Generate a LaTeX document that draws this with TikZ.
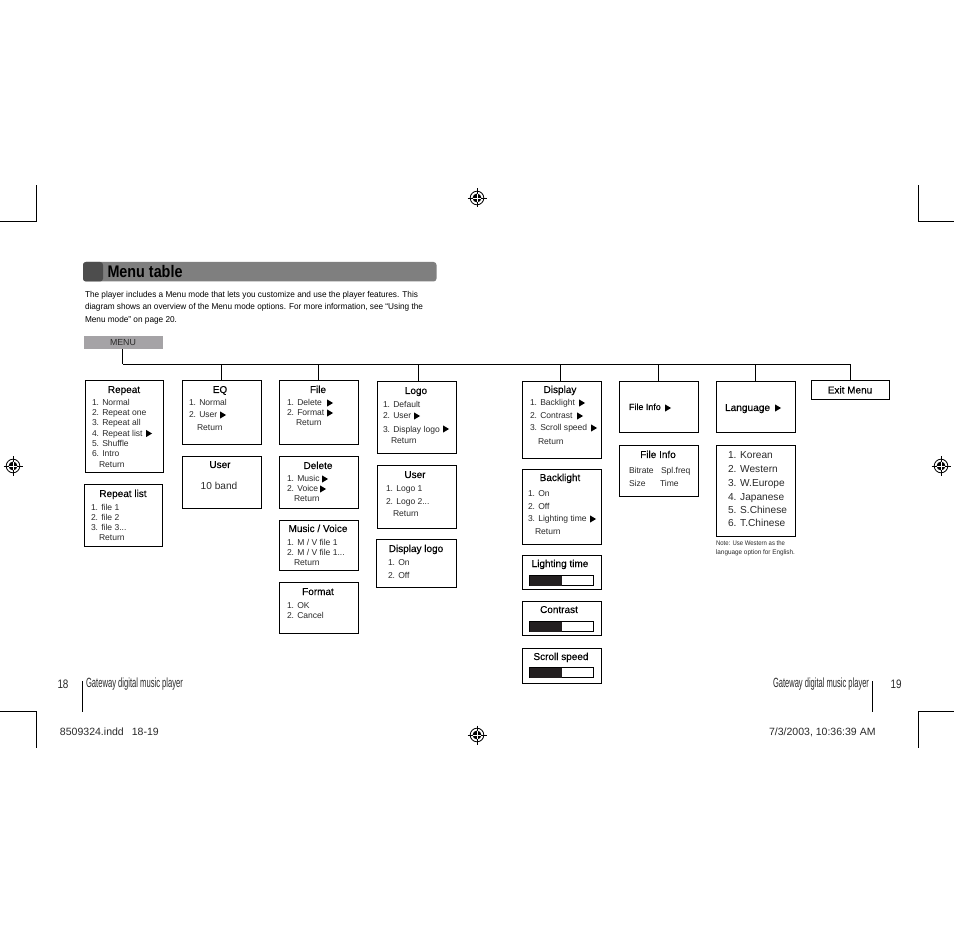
\documentclass[tikz,border=0pt]{standalone}
\usepackage{fontspec}
\usepackage{graphicx}
\setmainfont{Liberation Sans}
\newfontfamily\titlefont[FakeBold=0.25]{Liberation Sans}
\newcounter{tn}
\definecolor{barA}{HTML}{7F7F7F}
\definecolor{barB}{HTML}{4D4D4D}
\definecolor{menuG}{HTML}{A5A3A6}
\definecolor{bodyT}{HTML}{2A2A2A}
\definecolor{darkF}{HTML}{231F20}
\tikzset{
  mbx/.style={draw=black,line width=.8pt,rectangle,inner sep=0,outer sep=0,fill=white},
  wire/.style={draw=black,line width=.8pt},
  crop/.style={draw=black,line width=.8pt},
  anyt/.style={anchor=base west,inner sep=0,outer sep=0},
  item/.style={anyt,text=bodyT,font=\fontsize{6.4}{7}\selectfont},
  big/.style={anyt,text=bodyT,font=\fontsize{7.6}{8}\selectfont},
  head/.style={anchor=base,inner sep=0,outer sep=0,text=black,font=\titlefont\fontsize{7.5}{8}\selectfont},
  flat/.style={anyt,text=black}
}
\newcommand{\bx}[5]{\node[mbx,minimum width={(#4-#2-1)*0.75pt},minimum height={(#5-#3-1)*0.75pt}] (#1) at ({(#2+#4)/2},{(#3+#5)/2}) {};}
\newcommand{\lbl}[4]{\stepcounter{tn}\node[#1] (t\arabic{tn}) at (#2,#3) {#4};}
\newcommand{\tri}[2]{\fill[black] (#1-3,#2-3.6) -- (#1+3,#2) -- (#1-3,#2+3.6) -- cycle;}
\newcommand{\fit}[2]{\resizebox{\dimexpr #1pt*3/4\relax}{\height}{#2}}
\newcommand{\target}[2]{
  \draw[black,line width=.35pt] (#1-9.5,#2) -- (#1+9.5,#2) (#1,#2-9.5) -- (#1,#2+9.5);
  \draw[black,line width=.6pt] (#1,#2) circle (6.8);
  \fill[black] (#1,#2) circle (4.4);
  \draw[white,line width=.45pt] (#1-4.4,#2) -- (#1+4.4,#2) (#1,#2-4.4) -- (#1,#2+4.4);
}
\newcommand{\level}[2]{
  \draw[black,line width=.7pt] (529.5,#1) rectangle (593.5,#2);
  \fill[darkF] (529.5,#1) rectangle (562,#2);
}
\begin{document}
\begin{tikzpicture}[x=0.75pt,y=-0.75pt]
\useasboundingbox (0,0) rectangle (954,934);
\fill[white] (0,0) rectangle (954,934);
% crop marks
\draw[crop] (0,221.5) -- (36.5,221.5) -- (36.5,185);
\draw[crop] (954,221.5) -- (918.5,221.5) -- (918.5,185);
\draw[crop] (0,711.5) -- (36.5,711.5) -- (36.5,748);
\draw[crop] (954,711.5) -- (918.5,711.5) -- (918.5,748);
\target{477}{198}\target{477}{735}\target{13}{466}\target{941}{466}
% heading
\fill[barA,rounded corners=2.2pt] (83,262) rectangle (436.5,281.5);
\fill[barB,rounded corners=2.2pt] (83,262) rectangle (103,281.5);
\lbl{flat,font=\bfseries\fontsize{12.6}{14}\selectfont}{107.5}{277.5}{\fit{75}{Menu table}}
\lbl{flat,font=\fontsize{6.4}{8}\selectfont}{85}{297.5}{\fit{333}{The player includes a Menu mode that lets you customize and use the player features. This}}
\lbl{flat,font=\fontsize{6.4}{8}\selectfont}{85}{309.5}{\fit{338}{diagram shows an overview of the Menu mode options. For more information, see “Using the}}
\lbl{flat,font=\fontsize{6.4}{8}\selectfont}{85}{322.5}{\fit{92}{Menu mode” on page 20.}}
% menu
\node[fill=menuG,inner sep=0,outer sep=0,minimum width={79*0.75pt},minimum height={13*0.75pt}] (menu) at (123.5,342.5) {};
\lbl{anchor=base,inner sep=0,text=bodyT,font=\fontsize{6.6}{8}\selectfont}{123}{346}{MENU}
% boxes
\bx{repeat}{85}{380}{164}{473}
\bx{repeatlist}{84}{484}{163}{547}
\bx{eq}{182}{380}{262}{445}
\bx{userA}{182}{456}{262}{509}
\bx{file}{279}{380}{359}{445}
\bx{delete}{279}{456}{359}{509}
\bx{musicvoice}{279}{520}{359}{571}
\bx{format}{279}{582}{359}{634}
\bx{logo}{377}{381}{457}{454}
\bx{userB}{377}{465}{457}{529}
\bx{displaylogo}{376}{539}{457}{588}
\bx{display}{522}{381}{602}{459}
\bx{backlight}{522}{469}{602}{545}
\bx{lighting}{522}{555}{602}{590}
\bx{contrast}{522}{601}{602}{636}
\bx{scroll}{522}{648}{602}{684}
\bx{fileinfo}{619}{381}{699}{433}
\bx{fileinfoB}{619}{445}{699}{497}
\bx{language}{716}{381}{796}{433}
\bx{langlist}{716}{445}{796}{537}
\bx{exit}{811}{380}{890}{400}
% connectors
\coordinate (busL) at (122.5,364.5);
\coordinate (busR) at (850.5,364.5);
\coordinate (dEq) at (221.5,364.5);
\coordinate (dFile) at (318.5,364.5);
\coordinate (dLogo) at (418.5,364.5);
\coordinate (dDisp) at (560.5,364.5);
\coordinate (dInfo) at (658.5,364.5);
\coordinate (dLang) at (755.5,364.5);
\draw[wire] (busL |- menu.south) -- (busL);
\draw[wire] (busL) -- (busR) -- (busR |- exit.north);
\draw[wire] (dEq) -- (dEq |- eq.north);
\draw[wire] (dFile) -- (dFile |- file.north);
\draw[wire] (dLogo) -- (dLogo |- logo.north);
\draw[wire] (dDisp) -- (dDisp |- display.north);
\draw[wire] (dInfo) -- (dInfo |- fileinfo.north);
\draw[wire] (dLang) -- (dLang |- language.north);
% Repeat
\lbl{head}{124}{393}{Repeat}
\lbl{item}{92}{405.7}{1. Normal}
\lbl{item}{92}{416}{2. Repeat one}
\lbl{item}{92}{426}{3. Repeat all}
\lbl{item}{92}{436}{4. Repeat list}\tri{149}{433.5}
\lbl{item}{92}{446}{5. Shuffle}
\lbl{item}{92}{456}{6. Intro}
\lbl{item}{99}{467}{Return}
% Repeat list
\lbl{head}{123}{497}{Repeat list}
\lbl{item}{91}{510}{1. file 1}
\lbl{item}{91}{520}{2. file 2}
\lbl{item}{91}{530}{3. file 3...}
\lbl{item}{99}{540}{Return}
% EQ
\lbl{head}{220}{393}{EQ}
\lbl{item}{189}{406}{1. Normal}
\lbl{item}{189}{418}{2. User}\tri{223}{415}
\lbl{item}{197}{431}{Return}
% User
\lbl{head}{220}{468}{User}
\lbl{anchor=base,inner sep=0,text=bodyT,font=\fontsize{7.6}{8}\selectfont}{219}{489}{10 band}
% File
\lbl{head}{318}{393}{File}
\lbl{item}{287}{406}{1. Delete}\tri{330}{403}
\lbl{item}{287}{416}{2. Format}\tri{330}{413}
\lbl{item}{296}{426}{Return}
% Delete
\lbl{head}{318}{469}{Delete}
\lbl{item}{287}{482}{1. Music}\tri{325}{479}
\lbl{item}{287}{492}{2. Voice}\tri{323}{489}
\lbl{item}{294}{502}{Return}
% Music / Voice
\lbl{head}{318}{532}{Music / Voice}
\lbl{item}{287}{545.6}{1. M / V file 1}
\lbl{item}{287}{555}{2. M / V file 1...}
\lbl{item}{294}{565}{Return}
% Format
\lbl{head}{318}{595}{Format}
\lbl{item}{287}{608}{1. OK}
\lbl{item}{287}{618}{2. Cancel}
% Logo
\lbl{head}{416}{394}{Logo}
\lbl{item}{383}{407}{1. Default}
\lbl{item}{383}{419}{2. User}\tri{417}{416}
\lbl{item}{383}{432}{3. Display logo}\tri{446}{429}
\lbl{item}{391}{444}{Return}
% User
\lbl{head}{415}{478}{User}
\lbl{item}{386}{492}{1. Logo 1}
\lbl{item}{386}{504}{2. Logo 2...}
\lbl{item}{393}{516}{Return}
% Display logo
\lbl{head}{416}{552}{Display logo}
\lbl{item}{388}{565}{1. On}
\lbl{item}{388}{578}{2. Off}
% Display
\lbl{head}{560}{393}{Display}
\lbl{item}{530}{406}{1. Backlight}\tri{582}{403}
\lbl{item}{530}{419}{2. Contrast}\tri{580}{416}
\lbl{item}{530}{431}{3. Scroll speed}\tri{594}{428}
\lbl{item}{538}{445}{Return}
% Backlight
\lbl{head}{560}{481}{Backlight}
\lbl{item}{528}{497}{1. On}
\lbl{item}{528}{509}{2. Off}
\lbl{item}{528}{522}{3. Lighting time}\tri{593}{519}
\lbl{item}{535}{534}{Return}
% levels
\lbl{head}{560}{567}{Lighting time}\level{575.5}{585.5}
\lbl{head}{559}{613}{Contrast}\level{621.5}{631.5}
\lbl{head}{561}{660}{Scroll speed}\level{667.5}{677.5}
% File Info
\lbl{item,text=black,font=\titlefont\fontsize{6.7}{8}\selectfont}{629}{410}{File Info}\tri{668}{408}
\lbl{head}{658}{458}{File Info}
\lbl{item}{629}{474}{Bitrate}
\lbl{item}{661}{474}{Spl.freq}
\lbl{item}{629}{486}{Size}
\lbl{item}{660}{486}{Time}
% Language
\lbl{flat,font=\titlefont\fontsize{7.6}{8}\selectfont}{725}{411}{Language}\tri{778}{408}
\lbl{big}{728}{459}{1. Korean}
\lbl{big}{728}{473}{2. Western}
\lbl{big}{728}{486}{3. W.Europe}
\lbl{big}{728}{500}{4. Japanese}
\lbl{big}{728}{513}{5. S.Chinese}
\lbl{big}{728}{527}{6. T.Chinese}
\lbl{flat,text=bodyT,font=\fontsize{5}{6}\selectfont}{716}{545.3}{\fit{69}{Note: Use Western as the}}
\lbl{flat,text=bodyT,font=\fontsize{5}{6}\selectfont}{716}{554.3}{\fit{79}{language option for English.}}
% Exit
\lbl{head}{850}{393.5}{Exit Menu}
% footer
\draw[crop] (82.5,681) -- (82.5,712);
\draw[crop] (872.5,681) -- (872.5,712);
\lbl{flat,text=bodyT,font=\fontsize{10}{10}\selectfont}{86}{687.5}{\fit{97}{Gateway digital music player}}
\lbl{flat,text=bodyT,font=\fontsize{10}{10}\selectfont}{773}{687.5}{\fit{96}{Gateway digital music player}}
\lbl{flat,text=bodyT,font=\fontsize{9.2}{10}\selectfont}{57.5}{688.5}{\fit{11}{18}}
\lbl{flat,text=bodyT,font=\fontsize{9.2}{10}\selectfont}{890.5}{688.5}{\fit{11}{19}}
\lbl{flat,text=bodyT,font=\fontsize{7.9}{10}\selectfont}{60}{735}{8509324.indd\hspace{6pt}18-19}
\lbl{flat,text=bodyT,font=\fontsize{7.9}{10}\selectfont}{769}{735}{7/3/2003, 10:36:39 AM}
\end{tikzpicture}
\end{document}
